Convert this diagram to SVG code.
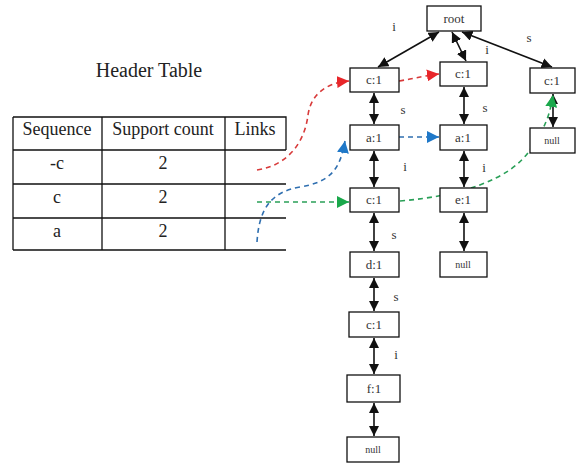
<svg xmlns="http://www.w3.org/2000/svg" width="579" height="463" viewBox="0 0 579 463">
<style>
.t{font-family:"Liberation Serif","Times New Roman",serif;fill:#222}
.th{font-size:18px;text-anchor:middle}
.n rect{fill:#fff;stroke:#111;stroke-width:1.3}
.n text{font-family:"Liberation Serif",serif;font-size:13px;fill:#333;text-anchor:middle}
.n text.sm{font-size:10px}
.lbl{font-family:"Liberation Serif",serif;font-size:13px;fill:#333;text-anchor:middle}
.tl{stroke:#111;stroke-width:1.3;fill:none}
.e{stroke:#111;stroke-width:1.6;fill:none;marker-start:url(#ab);marker-end:url(#ab)}
.d{stroke-width:1.6;fill:none;stroke-dasharray:5 4}
</style>
<defs>
<marker id="ab" viewBox="0 0 10 10" refX="10" refY="5" markerWidth="6.5" markerHeight="6.5" orient="auto-start-reverse" markerUnits="strokeWidth"><path d="M0,0 L10,5 L0,10 z" fill="#111"/></marker>
<marker id="ar" viewBox="0 0 10 10" refX="10" refY="5" markerWidth="7.5" markerHeight="7.5" orient="auto" markerUnits="strokeWidth"><path d="M0,0 L10,5 L0,10 z" fill="#e8262a"/></marker>
<marker id="abl" viewBox="0 0 10 10" refX="10" refY="5" markerWidth="7.5" markerHeight="7.5" orient="auto" markerUnits="strokeWidth"><path d="M0,0 L10,5 L0,10 z" fill="#1f78c8"/></marker>
<marker id="ag" viewBox="0 0 10 10" refX="10" refY="5" markerWidth="7.5" markerHeight="7.5" orient="auto" markerUnits="strokeWidth"><path d="M0,0 L10,5 L0,10 z" fill="#1aa84b"/></marker>
</defs>
<g id="header-table">
<text class="t" x="149" y="77" font-size="20" text-anchor="middle">Header Table</text>
<path class="tl" d="M13,117 H286 V150 M13,117 V250 M102,117 V250 M225,117 V250 M13,150 H286 M13,184 H286 M13,218 H286 M13,250 H286"/>
<text class="t th" x="57" y="135">Sequence</text>
<text class="t th" x="163" y="135">Support count</text>
<text class="t th" x="255" y="135">Links</text>
<text class="t th" x="57" y="169">-c</text>
<text class="t th" x="163" y="169">2</text>
<text class="t th" x="57" y="203">c</text>
<text class="t th" x="163" y="203">2</text>
<text class="t th" x="57" y="237">a</text>
<text class="t th" x="163" y="237">2</text>
</g>
<g id="connectors">
<line class="e" x1="439" y1="32" x2="378" y2="67"/>
<line class="e" x1="452" y1="32" x2="466" y2="61"/>
<line class="e" x1="462" y1="32" x2="552" y2="67"/>
<line class="e" x1="374" y1="93" x2="374" y2="124"/>
<line class="e" x1="374" y1="151" x2="374" y2="187"/>
<line class="e" x1="374" y1="213" x2="374" y2="251"/>
<line class="e" x1="374" y1="278" x2="374" y2="311"/>
<line class="e" x1="374" y1="338" x2="374" y2="374"/>
<line class="e" x1="374" y1="403" x2="374" y2="436"/>
<line class="e" x1="464" y1="87" x2="464" y2="124"/>
<line class="e" x1="464" y1="151" x2="464" y2="187"/>
<line class="e" x1="464" y1="213" x2="464" y2="251"/>
<line class="e" x1="553" y1="94" x2="553" y2="127"/>
<path class="d" stroke="#d83a3a" marker-end="url(#ar)" d="M257,170 C290,165 305,140 308,115 C311,95 325,83 349,81"/>
<path class="d" stroke="#d83a3a" marker-end="url(#ar)" d="M399,81 C412,79 422,76 439,74"/>
<path class="d" stroke="#2f6fb0" marker-end="url(#abl)" d="M257,242 C259,210 270,192 300,187 C330,182 340,170 345,141"/>
<path class="d" stroke="#2f6fb0" marker-end="url(#abl)" d="M399,137 H439"/>
<path class="d" stroke="#2aa058" marker-end="url(#ag)" d="M257,202 H349"/>
<path class="d" stroke="#2aa058" marker-end="url(#ag)" d="M400,201 C460,196 510,180 530,150 C545,128 550,115 553,95"/>
<text class="lbl" x="394" y="31">i</text>
<text class="lbl" x="487" y="54">i</text>
<text class="lbl" x="529" y="42">s</text>
<text class="lbl" x="403" y="114">s</text>
<text class="lbl" x="485" y="112">s</text>
<text class="lbl" x="405" y="171">i</text>
<text class="lbl" x="484" y="172">i</text>
<text class="lbl" x="394" y="239">s</text>
<text class="lbl" x="396" y="301">s</text>
<text class="lbl" x="396" y="359">i</text>
</g>
<g id="root" class="n"><rect x="427" y="6" width="54" height="25"/><text x="454" y="23">root</text></g>
<g id="c1-left" class="n"><rect x="350" y="68" width="49" height="24"/><text x="374" y="84">c:1</text></g>
<g id="c1-mid" class="n"><rect x="440" y="62" width="47" height="24"/><text x="463" y="78">c:1</text></g>
<g id="c1-right" class="n"><rect x="530" y="68" width="45" height="25"/><text x="552" y="85">c:1</text></g>
<g id="a1-left" class="n"><rect x="350" y="125" width="49" height="25"/><text x="374" y="142">a:1</text></g>
<g id="a1-mid" class="n"><rect x="440" y="125" width="47" height="25"/><text x="463" y="142">a:1</text></g>
<g id="null-right" class="n"><rect x="530" y="128" width="45" height="25"/><text class="sm" x="552" y="144">null</text></g>
<g id="c1-left2" class="n"><rect x="350" y="188" width="49" height="24"/><text x="374" y="204">c:1</text></g>
<g id="e1" class="n"><rect x="440" y="188" width="47" height="24"/><text x="463" y="204">e:1</text></g>
<g id="d1" class="n"><rect x="350" y="252" width="49" height="25"/><text x="374" y="269">d:1</text></g>
<g id="null-mid" class="n"><rect x="440" y="252" width="47" height="25"/><text class="sm" x="463" y="268">null</text></g>
<g id="c1-left3" class="n"><rect x="349" y="312" width="50" height="25"/><text x="374" y="329">c:1</text></g>
<g id="f1" class="n"><rect x="347" y="375" width="53" height="27"/><text x="374" y="393">f:1</text></g>
<g id="null-bottom" class="n"><rect x="347" y="437" width="52" height="25"/><text class="sm" x="373" y="453">null</text></g>
</svg>
